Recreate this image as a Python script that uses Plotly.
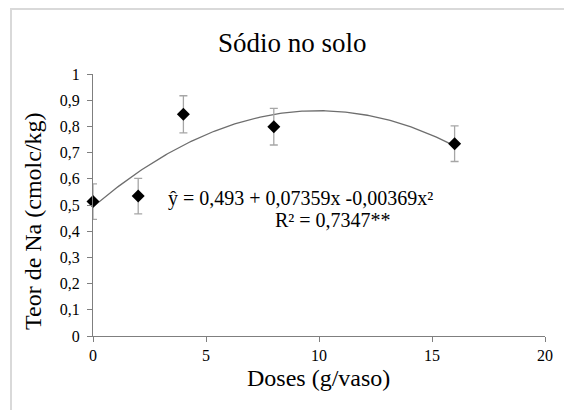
import numpy as np
import plotly.graph_objects as go

# Data
doses = [0, 2, 4, 8, 16]
sodio = [0.513, 0.534, 0.846, 0.799, 0.734]
erro = [0.068, 0.068, 0.071, 0.070, 0.068]

# Fitted quadratic trendline coefficients (as printed on the chart)
coef = [0.493, 0.07359, -0.00369]

y_ticks = [0, 0.1, 0.2, 0.3, 0.4, 0.5, 0.6, 0.7, 0.8, 0.9, 1]
y_ticktext = ["0", "0,1", "0,2", "0,3", "0,4", "0,5", "0,6", "0,7", "0,8", "0,9", "1"]
x_ticks = [0, 5, 10, 15, 20]
x_ticktext = ["0", "5", "10", "15", "20"]

FONT = "Liberation Serif"

xs = np.linspace(0, max(doses), 200)
ys = coef[0] + coef[1] * xs + coef[2] * xs ** 2

fig = go.Figure()
fig.add_trace(go.Scatter(
    x=xs, y=ys, mode="lines",
    line=dict(color="#6e6e6e", width=1.3),
    hoverinfo="skip", showlegend=False, cliponaxis=False,
))
fig.add_trace(go.Scatter(
    x=doses, y=sodio, mode="markers",
    marker=dict(symbol="diamond", size=10, color="black"),
    error_y=dict(type="data", array=erro, visible=True,
                 color="#a6a6a6", thickness=1.3, width=4),
    showlegend=False, cliponaxis=False,
))

L, R, T, B = 93, 19, 74, 74
W, H = 564, 410
pw, ph = W - L - R, H - T - B

def px_x(p):
    return (p - L) / pw

def px_y(p):
    return (H - B - p) / ph

fig.update_layout(
    width=W, height=H,
    margin=dict(l=L, r=R, t=T, b=B),
    paper_bgcolor="white", plot_bgcolor="white",
    font=dict(family=FONT, color="black"),
    shapes=[dict(type="rect", xref="paper", yref="paper",
                 x0=px_x(11), x1=px_x(575), y0=px_y(425), y1=px_y(9),
                 line=dict(color="#d9d9d9", width=2), layer="below")],
    xaxis=dict(range=[0, 20], tickvals=x_ticks, ticktext=x_ticktext,
               showgrid=False, zeroline=False, showline=True,
               linecolor="#7f7f7f", linewidth=1,
               ticks="outside", ticklen=5, tickcolor="#7f7f7f",
               tickfont=dict(size=16, family=FONT, color="black"),
               fixedrange=True),
    yaxis=dict(range=[0, 1], tickvals=y_ticks, ticktext=y_ticktext,
               showgrid=False, zeroline=False, showline=True,
               linecolor="#7f7f7f", linewidth=1,
               ticks="outside", ticklen=5, tickcolor="#7f7f7f",
               tickfont=dict(size=16, family=FONT, color="black"),
               ticklabelstandoff=4,
               fixedrange=True),
    annotations=[
        dict(text="Sódio no solo", xref="paper", yref="paper",
             x=px_x(292), y=px_y(43), showarrow=False,
             xanchor="center", yanchor="middle",
             font=dict(size=27, family=FONT, color="black")),
        dict(text="Doses (g/vaso)", xref="paper", yref="paper",
             x=px_x(318), y=px_y(378), showarrow=False,
             xanchor="center", yanchor="middle",
             font=dict(size=24, family=FONT, color="black")),
        dict(text="Teor de Na (cmolc/kg)", xref="paper", yref="paper",
             x=px_x(33), y=px_y(221), showarrow=False, textangle=-90,
             xanchor="center", yanchor="middle",
             font=dict(size=24, family=FONT, color="black")),
        dict(text="ŷ = 0,493 + 0,07359x -0,00369x²", xref="paper", yref="paper",
             x=px_x(166), y=px_y(198), showarrow=False,
             xanchor="left", yanchor="middle",
             font=dict(size=20, family=FONT, color="black")),
        dict(text="R² = 0,7347**", xref="paper", yref="paper",
             x=px_x(273), y=px_y(220), showarrow=False,
             xanchor="left", yanchor="middle",
             font=dict(size=20, family=FONT, color="black")),
    ],
)

fig.write_html("out.html")
